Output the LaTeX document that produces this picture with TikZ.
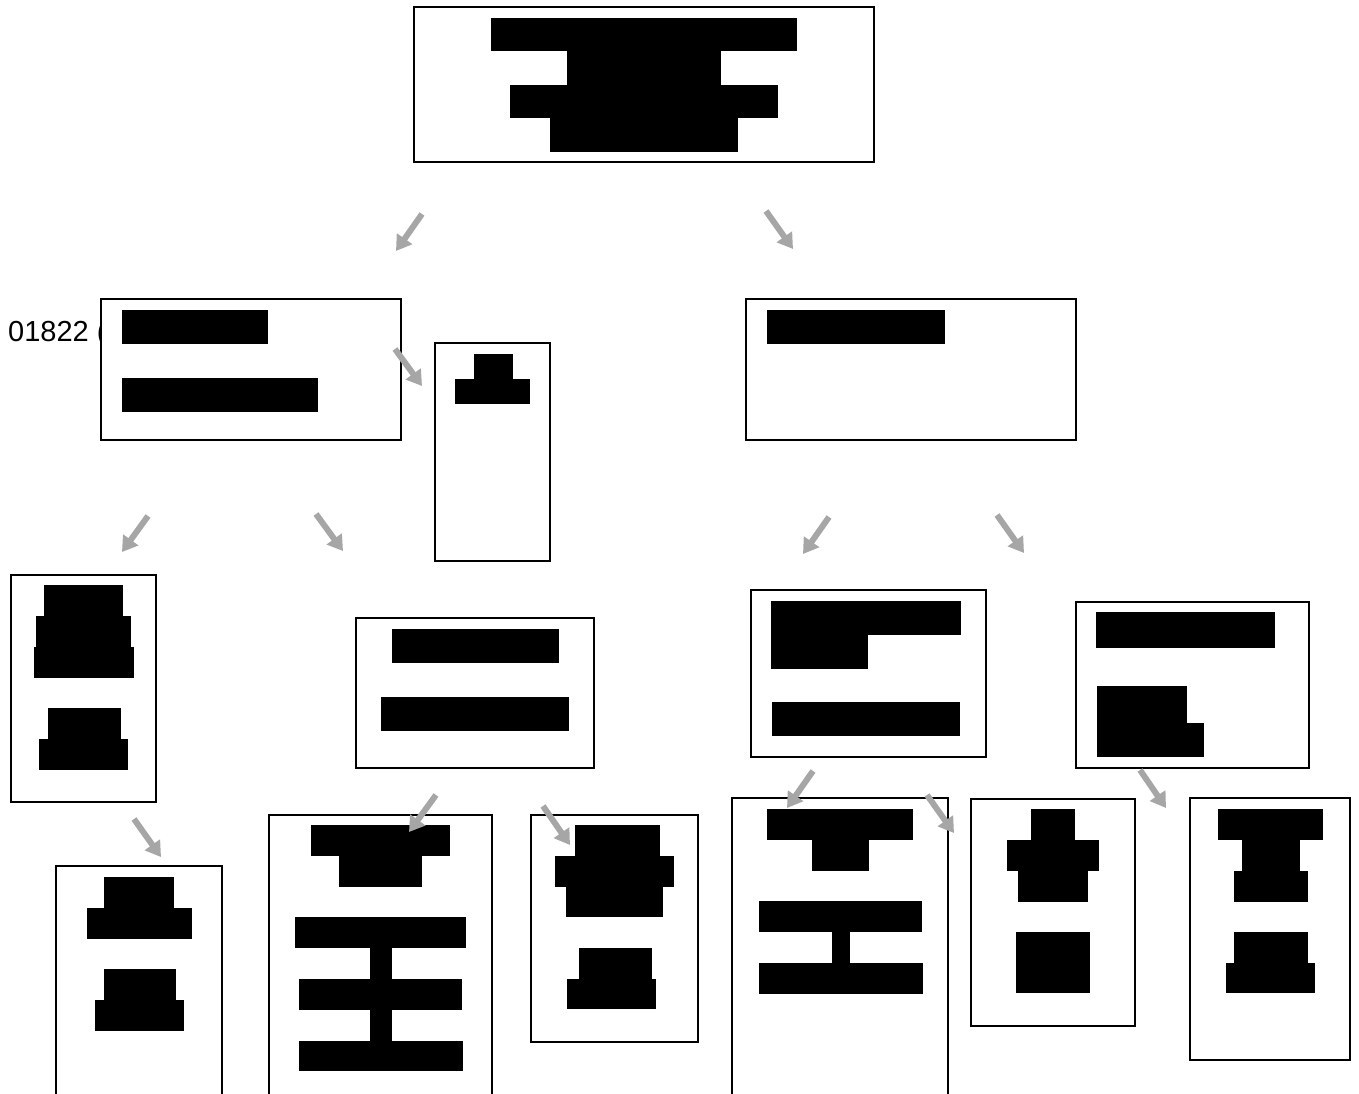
\documentclass[tikz,border=0pt]{standalone}
\usepackage{fontspec}
\setmainfont{Liberation Sans}
\usetikzlibrary{arrows.meta,fit}
\newcommand{\boxnode}[5]{\node[box, fit={(#2,#3) (#4,#5)}] (#1) {};}
\newcommand{\redact}[4]{\fill[black] (#1,#2) rectangle (#3,#4);}
\newcommand{\garrow}[5]{\coordinate (#1s) at (#2,#3); \coordinate (#1e) at (#4,#5); \draw[garrowstyle] (#1s) -- (#1e);}
\begin{document}
\begin{tikzpicture}[x=1pt,y=-1pt,
  box/.style={draw=black, line width=1.6pt, fill=white, inner sep=0pt},
  garrowstyle/.style={draw={rgb,255:red,166;green,166;blue,166}, line width=6pt, -{Triangle[length=15pt,width=18pt]}},
  lbl/.style={font=\fontsize{29}{34}\selectfont, inner sep=0pt, anchor=base west}]
\useasboundingbox (0,0) rectangle (1359,1093);
\node[lbl] (code) at (8,341) {01822 (};
% boxes
\boxnode{top}{414}{7}{874}{162}
\boxnode{lA}{101}{299}{401}{440}
\boxnode{narrow}{435}{343}{550}{561}
\boxnode{rA}{746}{299}{1076}{440}
\boxnode{lB}{11}{575}{156}{802}
\boxnode{mB}{356}{618}{594}{768}
\boxnode{rB}{751}{590}{986}{757}
\boxnode{rC}{1076}{602}{1309}{768}
\boxnode{b1}{56}{866}{222}{1100}
\boxnode{b2}{269}{815}{492}{1100}
\boxnode{b3}{531}{815}{698}{1042}
\boxnode{b4}{732}{798}{948}{1100}
\boxnode{b5}{971}{799}{1135}{1026}
\boxnode{b6}{1190}{798}{1350}{1060}
% redactions: top
\redact{491}{18}{797}{51}
\redact{567}{51}{721}{85}
\redact{510}{85}{778}{118}
\redact{550}{118}{738}{152}
% lA
\redact{122}{310}{268}{344}
\redact{122}{378}{318}{412}
% narrow
\redact{474}{354}{513}{379}
\redact{455}{379}{530}{404}
% rA
\redact{767}{310}{945}{344}
% lB
\redact{44}{585}{123}{616}
\redact{36}{616}{131}{647}
\redact{34}{647}{134}{678}
\redact{48}{708}{121}{739}
\redact{39}{739}{128}{770}
% mB
\redact{392}{629}{559}{663}
\redact{381}{697}{569}{731}
% rB
\redact{771}{601}{961}{635}
\redact{771}{635}{868}{669}
\redact{772}{702}{960}{736}
% rC
\redact{1096}{612}{1275}{648}
\redact{1097}{686}{1187}{723}
\redact{1097}{723}{1204}{757}
% b1
\redact{104}{877}{174}{908}
\redact{87}{908}{192}{939}
\redact{104}{969}{176}{1000}
\redact{95}{1000}{184}{1031}
% b2
\redact{311}{825}{450}{856}
\redact{339}{856}{422}{887}
\redact{295}{917}{466}{948}
\redact{370}{948}{392}{979}
\redact{299}{979}{462}{1010}
\redact{370}{1010}{392}{1041}
\redact{299}{1041}{463}{1071}
% b3
\redact{575}{825}{660}{856}
\redact{555}{856}{674}{887}
\redact{566}{887}{663}{917}
\redact{579}{948}{652}{979}
\redact{567}{979}{656}{1009}
% b4
\redact{767}{809}{913}{840}
\redact{812}{840}{869}{871}
\redact{759}{901}{922}{932}
\redact{832}{932}{850}{963}
\redact{759}{963}{923}{994}
% b5
\redact{1031}{809}{1075}{840}
\redact{1007}{840}{1099}{871}
\redact{1018}{871}{1088}{902}
\redact{1016}{932}{1090}{993}
% b6
\redact{1218}{809}{1323}{840}
\redact{1242}{840}{1300}{871}
\redact{1234}{871}{1308}{902}
\redact{1234}{932}{1308}{963}
\redact{1226}{963}{1315}{993}
% arrows
\garrow{a1}{422}{214}{396}{251}
\garrow{a2}{766}{211}{793}{249}
\garrow{a3}{395}{349}{422}{386}
\garrow{a4}{148}{516}{122}{552}
\garrow{a5}{316}{514}{343}{551}
\garrow{a6}{829}{517}{803}{554}
\garrow{a7}{997}{515}{1024}{553}
\garrow{a8}{134}{819}{161}{857}
\garrow{a9}{436}{795}{409}{832}
\garrow{a10}{543}{806}{570}{845}
\garrow{a11}{813}{771}{787}{808}
\garrow{a12}{927}{795}{954}{833}
\garrow{a13}{1140}{770}{1166}{808}
\end{tikzpicture}
\end{document}
